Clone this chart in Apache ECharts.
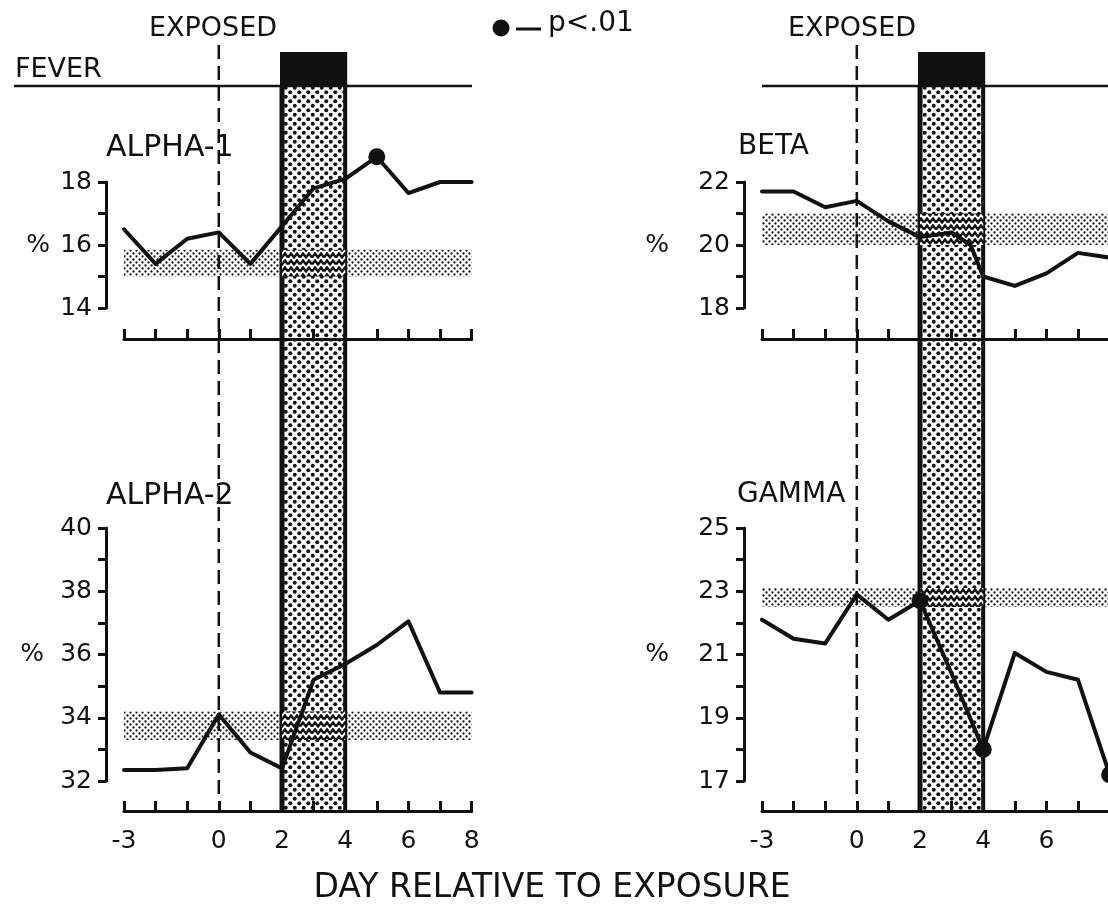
<!DOCTYPE html>
<html>
<head>
<meta charset="utf-8">
<script src="https://cdn.jsdelivr.net/npm/echarts@6/dist/echarts.min.js"></script>
<style>
html,body{margin:0;padding:0;background:#fff;}
#chart{width:1108px;height:910px;}
</style>
</head>
<body>
<div id="chart"></div>
<script>
// ---------------- DATA ----------------
const DAYS = [-3, -2, -1, 0, 1, 2, 3, 4, 5, 6, 7, 8];
const ALPHA1 = [16.5, 15.4, 16.2, 16.4, 15.4, 16.6, 17.8, 18.1, 18.8, 17.65, 18.0, 18.0];
const ALPHA2 = [32.35, 32.35, 32.4, 34.1, 32.9, 32.4, 35.2, 35.7, 36.3, 37.05, 34.8, 34.8];
const BETA_DAYS = [-3, -2, -1, 0, 1, 2, 3, 3.6, 4, 5, 6, 7, 8];
const BETA = [21.7, 21.7, 21.2, 21.4, 20.75, 20.25, 20.4, 20.0, 19.0, 18.7, 19.1, 19.75, 19.6];
const GAMMA = [22.1, 21.5, 21.35, 22.9, 22.1, 22.7, 20.4, 18.0, 21.05, 20.45, 20.2, 17.2];

const ALPHA1_SIG_DAYS = [5];
const ALPHA2_SIG_DAYS = [];
const BETA_SIG_DAYS = [];
const GAMMA_SIG_DAYS = [2, 4, 8];

const ALPHA1_NORMAL = [15.0, 15.85];
const ALPHA2_NORMAL = [33.3, 34.2];
const BETA_NORMAL = [20.0, 21.0];
const GAMMA_NORMAL = [22.5, 23.1];

const EXPOSURE_DAY = 0;
const FEVER_DAYS = [2, 4];

const X_TICK_LABELS_LEFT = [-3, 0, 2, 4, 6, 8];
const X_TICK_LABELS_RIGHT = [-3, 0, 2, 4, 6];
const ALPHA1_Y_RANGE = [14, 18];
const ALPHA2_Y_RANGE = [32, 40];
const BETA_Y_RANGE = [18, 22];
const GAMMA_Y_RANGE = [17, 25];
const ALPHA1_Y_LABELS = [14, 16, 18];
const ALPHA2_Y_LABELS = [32, 34, 36, 38, 40];
const BETA_Y_LABELS = [18, 20, 22];
const GAMMA_Y_LABELS = [17, 19, 21, 23, 25];

// ---------------- STYLE / LAYOUT ----------------
const INK = '#111';
const FONT = 'DejaVu Sans';
const COL_LEFT = [124, 762];
const PLOT_W = 347.6;
const ROWS = [
  { top: 182, height: 126, xOffset: 31 },
  { top: 528, height: 253, xOffset: 30 }
];
const OVER = { top: 40, height: 771, boxTop: 12, bandTop: 46, bandBottom: 771, dashTop: 5, dashBottom: 760 };

function makePattern(w, h, draw) {
  const c = document.createElement('canvas');
  c.width = w; c.height = h;
  const g = c.getContext('2d');
  g.fillStyle = '#fff';
  g.fillRect(0, 0, w, h);
  draw(g);
  return { image: c, repeat: 'repeat' };
}
function dots(g, pts, r) {
  g.fillStyle = INK;
  pts.forEach(([x, y]) => { g.beginPath(); g.arc(x, y, r, 0, Math.PI * 2); g.fill(); });
}
const densePattern = makePattern(9, 9, g => dots(g, [[2.25, 2.25], [6.75, 6.75]], 2.0));
const lightPattern = makePattern(6, 6, g => dots(g, [[1.5, 1.5], [4.5, 4.5]], 1.15));
const zigPattern = makePattern(12, 7, g => {
  g.strokeStyle = INK; g.lineWidth = 2.4;
  g.beginPath();
  g.moveTo(0, 5.5); g.lineTo(3, 1.5); g.lineTo(6, 5.5); g.lineTo(9, 1.5); g.lineTo(12, 5.5);
  g.stroke();
});

const panels = [
  { title: 'ALPHA-1', col: 0, row: 0, x: DAYS, y: ALPHA1, sig: ALPHA1_SIG_DAYS, normal: ALPHA1_NORMAL, range: ALPHA1_Y_RANGE, labels: ALPHA1_Y_LABELS, nameGap: 56, xLabels: null },
  { title: 'ALPHA-2', col: 0, row: 1, x: DAYS, y: ALPHA2, sig: ALPHA2_SIG_DAYS, normal: ALPHA2_NORMAL, range: ALPHA2_Y_RANGE, labels: ALPHA2_Y_LABELS, nameGap: 62, xLabels: X_TICK_LABELS_LEFT },
  { title: 'BETA', col: 1, row: 0, x: BETA_DAYS, y: BETA, sig: BETA_SIG_DAYS, normal: BETA_NORMAL, range: BETA_Y_RANGE, labels: BETA_Y_LABELS, nameGap: 75, xLabels: null },
  { title: 'GAMMA', col: 1, row: 1, x: DAYS, y: GAMMA, sig: GAMMA_SIG_DAYS, normal: GAMMA_NORMAL, range: GAMMA_Y_RANGE, labels: GAMMA_Y_LABELS, nameGap: 75, xLabels: X_TICK_LABELS_RIGHT }
];

const X_MIN = DAYS[0], X_MAX = DAYS[DAYS.length - 1];

const grid = [], xAxis = [], yAxis = [], series = [];

function rectRender(fill) {
  return function (params, api) {
    const p1 = api.coord([api.value(0), api.value(3)]);
    const p2 = api.coord([api.value(1), api.value(2)]);
    return { type: 'rect', shape: { x: p1[0], y: p1[1], width: p2[0] - p1[0], height: p2[1] - p1[1] }, style: { fill: fill } };
  };
}

function makeGrid(left, top, height) {
  return { left: left, top: top, width: PLOT_W, height: height, containLabel: false, outerBoundsMode: 'none' };
}

panels.forEach((p, i) => {
  const r = ROWS[p.row];
  grid.push(makeGrid(COL_LEFT[p.col], r.top, r.height));
  xAxis.push({
    gridIndex: i, type: 'value', min: X_MIN, max: X_MAX, interval: 1, offset: r.xOffset, z: 4,
    axisLine: { show: true, onZero: false, lineStyle: { color: INK, width: 3 } },
    axisTick: { show: true, inside: true, length: 10, lineStyle: { color: INK, width: 3 } },
    axisLabel: {
      show: !!p.xLabels, margin: 18, color: INK, fontFamily: FONT, fontSize: 25,
      formatter: v => (p.xLabels && p.xLabels.includes(v)) ? String(v) : ''
    },
    splitLine: { show: false }
  });
  yAxis.push({
    gridIndex: i, type: 'value', min: p.range[0], max: p.range[1], interval: 1, offset: 18, z: 4,
    name: '%', nameLocation: 'middle', nameRotate: 0, nameGap: p.nameGap,
    nameTextStyle: { color: INK, fontFamily: FONT, fontSize: 25 },
    axisLine: { show: true, onZero: false, lineStyle: { color: INK, width: 3 } },
    axisTick: { show: true, inside: false, length: 8, lineStyle: { color: INK, width: 3 } },
    axisLabel: {
      show: true, margin: 14, color: INK, fontFamily: FONT, fontSize: 25,
      formatter: v => p.labels.includes(v) ? String(v) : ''
    },
    splitLine: { show: false }
  });
  // normal range band
  series.push({
    type: 'custom', xAxisIndex: i, yAxisIndex: i, z: 1, silent: true, clip: false,
    renderItem: rectRender(lightPattern),
    data: [[X_MIN, X_MAX, p.normal[0], p.normal[1]]]
  });
  // intersection with fever period
  series.push({
    type: 'custom', xAxisIndex: i, yAxisIndex: i, z: 3, silent: true, clip: false,
    renderItem: rectRender(zigPattern),
    data: [[FEVER_DAYS[0], FEVER_DAYS[1], p.normal[0], p.normal[1]]]
  });
  // data line
  series.push({
    type: 'line', xAxisIndex: i, yAxisIndex: i, z: 5, silent: true, clip: false,
    symbol: 'none', lineStyle: { color: INK, width: 4, join: 'round', cap: 'round' },
    data: p.x.map((d, k) => [d, p.y[k]])
  });
  // significant points
  series.push({
    type: 'scatter', xAxisIndex: i, yAxisIndex: i, z: 6, silent: true, clip: false,
    symbol: 'circle', symbolSize: 17, itemStyle: { color: INK, opacity: 1 },
    data: p.sig.map(d => [d, p.y[p.x.indexOf(d)]])
  });
});

// overlay grids (one per column) for fever period and exposure line
[0, 1].forEach(col => {
  const gi = grid.length;
  grid.push(makeGrid(COL_LEFT[col], OVER.top, OVER.height));
  xAxis.push({ gridIndex: gi, type: 'value', min: X_MIN, max: X_MAX, interval: 1, show: false });
  yAxis.push({ gridIndex: gi, type: 'value', min: 0, max: OVER.height, inverse: true, show: false });
  series.push({
    type: 'custom', xAxisIndex: gi, yAxisIndex: gi, z: 2, silent: true, clip: false,
    renderItem: function (params, api) {
      const xa = api.coord([api.value(0), 0])[0];
      const xb = api.coord([api.value(1), 0])[0];
      const yBox = api.coord([0, OVER.boxTop])[1];
      const yTop = api.coord([0, OVER.bandTop])[1];
      const yBot = api.coord([0, OVER.bandBottom])[1];
      return {
        type: 'group', children: [
          { type: 'rect', shape: { x: xa, y: yTop, width: xb - xa, height: yBot - yTop }, style: { fill: densePattern } },
          { type: 'rect', shape: { x: xa - 2, y: yBox, width: xb - xa + 4, height: yTop - yBox + 1 }, style: { fill: INK } },
          { type: 'line', shape: { x1: xa, y1: yTop, x2: xa, y2: yBot }, style: { stroke: INK, lineWidth: 5 } },
          { type: 'line', shape: { x1: xb, y1: yTop, x2: xb, y2: yBot }, style: { stroke: INK, lineWidth: 4 } }
        ]
      };
    },
    data: [[FEVER_DAYS[0], FEVER_DAYS[1]]]
  });
  series.push({
    type: 'custom', xAxisIndex: gi, yAxisIndex: gi, z: 4, silent: true, clip: false,
    renderItem: function (params, api) {
      const a = api.coord([api.value(0), OVER.dashTop]);
      const b = api.coord([api.value(0), OVER.dashBottom]);
      return { type: 'line', shape: { x1: a[0], y1: a[1], x2: b[0], y2: b[1] }, style: { stroke: INK, lineWidth: 2.5, lineDash: [14, 7] } };
    },
    data: [[EXPOSURE_DAY, 0]]
  });
});

function txt(text, x, y, size, align) {
  return { type: 'text', x: x, y: y, z: 10, silent: true,
    style: { text: text, fill: INK, font: size + 'px "' + FONT + '"', textAlign: align || 'left', textVerticalAlign: 'middle' } };
}

const graphic = [
  txt('EXPOSED', 213, 29, 27, 'center'),
  txt('EXPOSED', 852, 29, 27, 'center'),
  txt('FEVER', 15, 70, 27, 'left'),
  { type: 'line', z: 3, silent: true, shape: { x1: 14, y1: 86, x2: 472, y2: 86 }, style: { stroke: INK, lineWidth: 2.5 } },
  { type: 'line', z: 3, silent: true, shape: { x1: 762, y1: 86, x2: 1108, y2: 86 }, style: { stroke: INK, lineWidth: 2.5 } },
  { type: 'circle', z: 10, silent: true, shape: { cx: 501, cy: 28, r: 8.5 }, style: { fill: INK } },
  { type: 'line', z: 10, silent: true, shape: { x1: 516, y1: 29, x2: 541, y2: 29 }, style: { stroke: INK, lineWidth: 3 } },
  txt('p<.01', 548, 24, 28, 'left'),
  txt('ALPHA-1', 106, 148, 30, 'left'),
  txt('ALPHA-2', 106, 496, 30, 'left'),
  txt('BETA', 738, 147, 28, 'left'),
  txt('GAMMA', 737, 495, 28, 'left'),
  txt('DAY RELATIVE TO EXPOSURE', 552, 888, 33, 'center')
];

const chart = echarts.init(document.getElementById('chart'), null, { renderer: 'canvas' });
chart.setOption({
  animation: false,
  backgroundColor: '#fff',
  grid: grid,
  xAxis: xAxis,
  yAxis: yAxis,
  series: series,
  graphic: graphic
});
</script>
</body>
</html>
